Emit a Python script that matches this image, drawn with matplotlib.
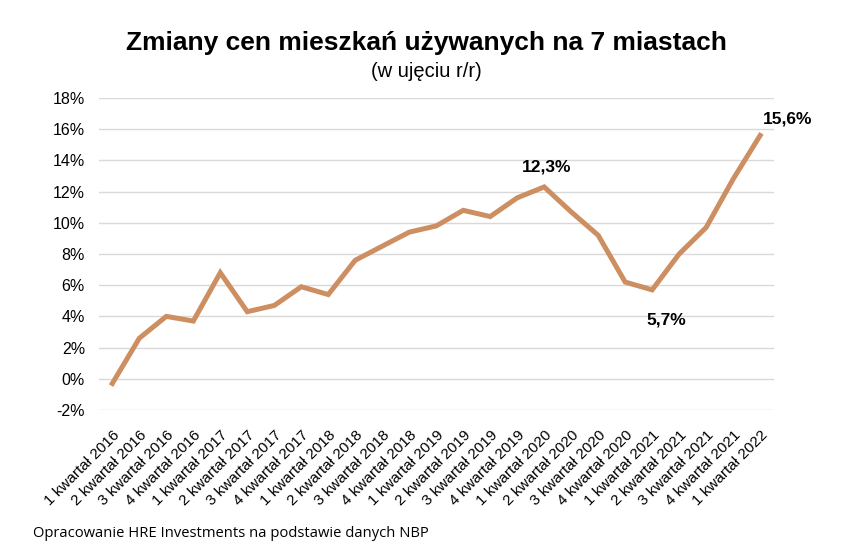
import numpy as np
import matplotlib.pyplot as plt

# kwartaly i zmiany r/r (%)
quarters = ['1 kwartał 2016', '2 kwartał 2016', '3 kwartał 2016', '4 kwartał 2016',
            '1 kwartał 2017', '2 kwartał 2017', '3 kwartał 2017', '4 kwartał 2017',
            '1 kwartał 2018', '2 kwartał 2018', '3 kwartał 2018', '4 kwartał 2018',
            '1 kwartał 2019', '2 kwartał 2019', '3 kwartał 2019', '4 kwartał 2019',
            '1 kwartał 2020', '2 kwartał 2020', '3 kwartał 2020', '4 kwartał 2020',
            '1 kwartał 2021', '2 kwartał 2021', '3 kwartał 2021', '4 kwartał 2021',
            '1 kwartał 2022']
values = [-0.3, 2.6, 4.0, 3.7, 6.8, 4.3, 4.7, 5.9, 5.4, 7.6, 8.5, 9.4, 9.8,
          10.8, 10.4, 11.6, 12.3, 10.7, 9.2, 6.2, 5.7, 8.0, 9.7, 12.8, 15.6]
yticks = list(range(-2, 19, 2))
labelled = {16: '12,3%', 20: '5,7%', 24: '15,6%'}

fig = plt.figure(figsize=(8.52, 5.57), dpi=100)
ax = fig.add_axes([0.116, 0.264, 0.792, 0.560])

x = np.arange(len(values))
ax.plot(x, values, color='#CD8E62', lw=3.6, solid_joinstyle='miter', zorder=3)

ax.set_xlim(-0.5, len(values) - 0.5)
ax.set_ylim(-2, 18)
ax.set_yticks(yticks)
ax.set_yticklabels(['%d%%' % v for v in yticks], fontsize=11.5, family='Liberation Sans')
ax.set_xticks(x)
ax.set_xticklabels(quarters, rotation=45, ha='right', rotation_mode='anchor',
                   fontsize=11, family='Liberation Sans')
ax.grid(axis='y', color='#d9d9d9', lw=1)
ax.tick_params(axis='y', length=0, pad=10)
ax.tick_params(axis='x', length=0, pad=13)
for s in ax.spines.values():
    s.set_visible(False)

# offsety etykiet (pt)
offs = {16: (2, 14), 20: (10, -22), 24: (20, 12)}
for i, txt in labelled.items():
    ax.annotate(txt, (i, values[i]), xytext=offs[i], textcoords='offset points',
                ha='center', va='center',
                fontsize=12.5, fontweight='bold', family='Liberation Sans')

fig.text(0.5, 0.922, 'Zmiany cen mieszkań używanych na 7 miastach', ha='center', va='center',
         fontsize=19, fontweight='bold', family='Liberation Sans')
fig.text(0.5, 0.872, '(w ujęciu r/r)', ha='center', va='center', fontsize=14.5,
         family='Liberation Sans')
fig.text(0.039, 0.043, 'Opracowanie HRE Investments na podstawie danych NBP', ha='left',
         va='center', fontsize=10.6, family='Open Sans')

fig.savefig('out.png', dpi=100)
